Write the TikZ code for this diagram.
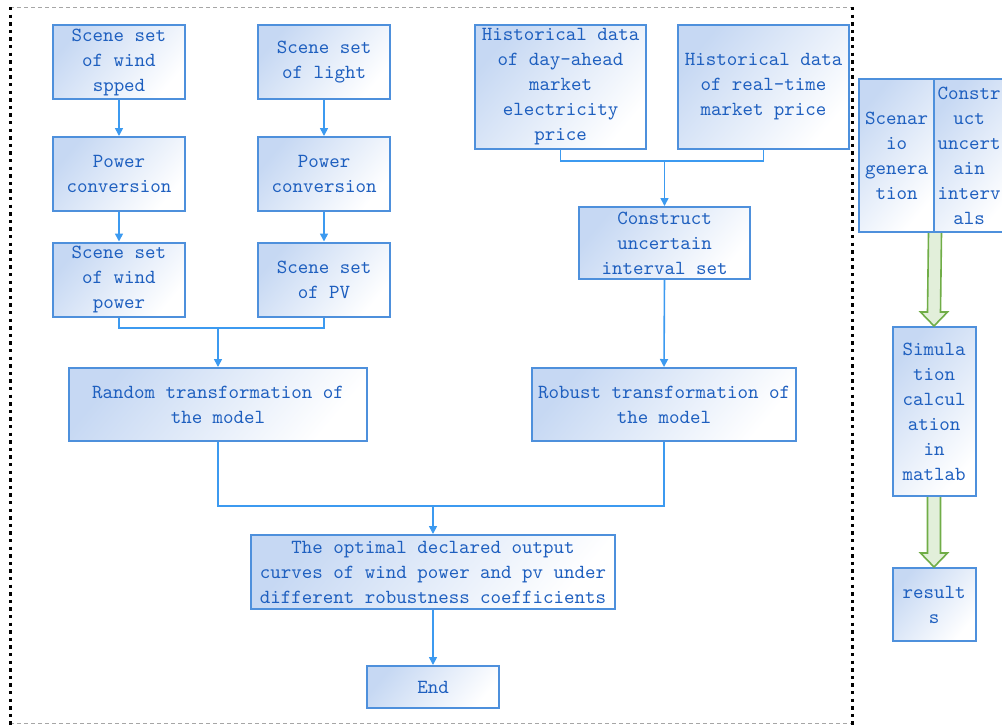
\documentclass[tikz,border=0pt]{standalone}
\usepackage{fontspec}
\usetikzlibrary{arrows.meta}
\usetikzlibrary{calc}

\definecolor{boxblue}{HTML}{C6D8F3}
\definecolor{edgeblue}{HTML}{4E90DC}
\definecolor{lineblue}{HTML}{3C9AF0}
\definecolor{textblue}{HTML}{1E5FBF}
\definecolor{arrowgreen}{HTML}{70AD47}
\definecolor{arrowfill}{HTML}{E2EFDA}

\begin{document}
\begin{tikzpicture}[x=0.5pt,y=-0.5pt]
    \tikzstyle{box}        = [draw=edgeblue,line width=1pt,top color=boxblue,bottom color=white,
                              shading angle=50,text=textblue,align=center,inner sep=0pt,
                              font=\ttfamily\fontsize{10pt}{12.5pt}\selectfont]
    \tikzstyle{small box}  = [box,minimum width=66pt,minimum height=37pt]
    \tikzstyle{wide box}   = [box,minimum height=36.5pt]
    \tikzstyle{line}       = [draw=lineblue,line width=0.8pt]
    \tikzstyle{arrow}      = [line,-{Triangle[length=4pt,width=4pt]}]
    \tikzstyle{fat arrow}  = [draw=arrowgreen,fill=arrowfill,line width=0.8pt,line join=miter]
    \tikzstyle{frame side} = [black,line width=1.5pt,dash pattern=on 1.7pt off 2.1pt]
    \tikzstyle{frame top}  = [gray!70,line width=0.5pt,dash pattern=on 2pt off 1.5pt]

    \clip (0,0) rectangle (1002,725);

    % frame
    \draw[frame top] (10,7) -- (852,7);
    \draw[frame top] (10,723) -- (852,723);
    \draw[frame side] (10.5,7) -- (10.5,725);
    \draw[frame side] (852,7) -- (852,725);

    % wind and light
    \node[small box] (wind)  at (119,62)    {Scene set\\of wind\\spped};
    \node[small box] (light) at (324,62)    {Scene set\\of light};
    \node[small box] (pc1)   at (119,174)   {Power\\conversion};
    \node[small box] (pc2)   at (324,174)   {Power\\conversion};
    \node[small box] (wpow)  at (119,279.5) {Scene set\\of wind\\power};
    \node[small box] (pv)    at (324,279.5) {Scene set\\of PV};

    % price
    \node[box,minimum width=85.5pt,minimum height=62pt] (hda) at (560.5,87)
        {Historical data\\of day-ahead\\market\\electricity\\price};
    \node[box,minimum width=85.5pt,minimum height=62pt] (hrt) at (763.5,87)
        {Historical data\\of real-time\\market price};
    \node[box,minimum width=85.5pt,minimum height=36pt] (cons) at (664.5,243)
        {Construct\\uncertain\\interval set};

    % models
    \node[wide box,minimum width=149pt] (rand) at (218,404.5) {Random transformation of\\the model};
    \node[wide box,minimum width=132pt] (rob)  at (664,404.5) {Robust transformation of\\the model};
    \node[box,minimum width=182pt,minimum height=37pt] (opt) at (433,572)
        {The optimal declared output\\curves of wind power and pv under\\different robustness coefficients};
    \node[box,minimum width=66pt,minimum height=21pt] (fin) at (433,687) {End};

    % right side
    \node[box,minimum width=37.5pt,minimum height=76.5pt] (scen) at (896.5,155.5)
        {Scenar\\io\\genera\\tion};
    \node[box,minimum width=38pt,minimum height=76.5pt,text width=38pt] (cint) at (972,155.5)
        {\hspace*{-3pt}Constr\\\hspace*{-3pt}uct\\\hspace*{-3pt}uncert\\\hspace*{-3pt}ain\\\hspace*{-3pt}interv\\\hspace*{-3pt}als};
    \node[box,minimum width=41.5pt,minimum height=84.5pt] (sim) at (934,411.5)
        {Simula\\tion\\calcul\\ation\\in\\matlab};
    \node[box,minimum width=41.5pt,minimum height=36.5pt] (res) at (934,604.5) {result\\s};

    % connectors
    \coordinate (m1) at (218,328);
    \coordinate (m2) at (664.5,161);
    \coordinate (m3) at (433,506);

    \draw[arrow] (wind) -- (pc1);
    \draw[arrow] (light) -- (pc2);
    \draw[arrow] (pc1) -- (wpow);
    \draw[arrow] (pc2) -- (pv);
    \draw[line]  (wpow.south) |- (m1);
    \draw[line]  (pv.south) |- (m1);
    \draw[arrow] (m1) -- (rand.north);

    \draw[line]  (hda.south) |- (m2);
    \draw[line]  (hrt.south) |- (m2);
    \draw[arrow] (m2) -- (cons.north);
    \draw[arrow] (cons.south) -- (rob.north);

    \draw[line]  (rand.south) |- (m3);
    \draw[line]  (rob.south) |- (m3);
    \draw[arrow] (m3) -- (opt.north);
    \draw[arrow] (opt) -- (fin);

    \draw[fat arrow] ($(scen.south east)+(-6.5,0)$) -- ($(sim.north)+(-6.5,-14)$)
        -- ($(sim.north)+(-13.5,-14)$) -- (sim.north) -- ($(sim.north)+(13.5,-14)$)
        -- ($(sim.north)+(6.5,-14)$) -- ($(scen.south east)+(6.5,0)$);
    \draw[fat arrow] ($(sim.south)+(-6.5,0)$) -- ($(res.north)+(-6.5,-14)$)
        -- ($(res.north)+(-13.5,-14)$) -- (res.north) -- ($(res.north)+(13.5,-14)$)
        -- ($(res.north)+(6.5,-14)$) -- ($(sim.south)+(6.5,0)$);
\end{tikzpicture}
\end{document}
